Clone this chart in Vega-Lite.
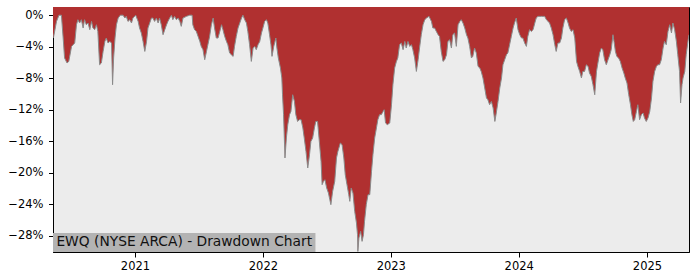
{
  "$schema": "https://vega.github.io/schema/vega-lite/v6.json",
  "width": 636,
  "height": 245,
  "autosize": {"type": "none"},
  "padding": {"left": 53, "top": 7, "right": 11, "bottom": 28},
  "config": {
    "view": {"stroke": "#000000", "strokeWidth": 1, "fill": "#ececec"},
    "axis": {
      "domainColor": "#000000",
      "tickColor": "#000000",
      "labelColor": "#000000",
      "labelFont": "DejaVu Sans",
      "labelFontSize": 11.5,
      "grid": false,
      "title": null
    }
  },
  "datasets": {
    "drawdown": [
      {"d": "2020-05-12", "v": -2.9},
      {"d": "2020-05-14", "v": -2.69},
      {"d": "2020-05-22", "v": -0.79},
      {"d": "2020-05-29", "v": 0},
      {"d": "2020-06-05", "v": 0},
      {"d": "2020-06-10", "v": -2.9},
      {"d": "2020-06-14", "v": -5.43},
      {"d": "2020-06-21", "v": -6.07},
      {"d": "2020-06-26", "v": -5.87},
      {"d": "2020-07-04", "v": -3.96},
      {"d": "2020-07-13", "v": -3.53},
      {"d": "2020-07-18", "v": -1.21},
      {"d": "2020-07-22", "v": -0.57},
      {"d": "2020-07-27", "v": -0.99},
      {"d": "2020-08-01", "v": -0.57},
      {"d": "2020-08-06", "v": -1.63},
      {"d": "2020-08-10", "v": -0.57},
      {"d": "2020-08-15", "v": -1.21},
      {"d": "2020-08-20", "v": -0.99},
      {"d": "2020-08-25", "v": -1.84},
      {"d": "2020-08-30", "v": -0.79},
      {"d": "2020-09-03", "v": -1.63},
      {"d": "2020-09-08", "v": -1.84},
      {"d": "2020-09-13", "v": -1.21},
      {"d": "2020-09-17", "v": -2.06},
      {"d": "2020-09-22", "v": -6.29},
      {"d": "2020-09-27", "v": -6.07},
      {"d": "2020-10-02", "v": -4.6},
      {"d": "2020-10-07", "v": -3.33},
      {"d": "2020-10-11", "v": -2.9},
      {"d": "2020-10-16", "v": -3.53},
      {"d": "2020-10-21", "v": -3.33},
      {"d": "2020-10-26", "v": -3.53},
      {"d": "2020-10-29", "v": -8.83},
      {"d": "2020-11-01", "v": -5.43},
      {"d": "2020-11-05", "v": -2.9},
      {"d": "2020-11-09", "v": -1.21},
      {"d": "2020-11-14", "v": -0.36},
      {"d": "2020-11-20", "v": 0},
      {"d": "2020-11-28", "v": 0},
      {"d": "2020-12-03", "v": -0.36},
      {"d": "2020-12-07", "v": -0.15},
      {"d": "2020-12-12", "v": -0.79},
      {"d": "2020-12-17", "v": -0.57},
      {"d": "2020-12-22", "v": -0.99},
      {"d": "2020-12-26", "v": -0.36},
      {"d": "2021-01-03", "v": 0},
      {"d": "2021-01-10", "v": -0.79},
      {"d": "2021-01-14", "v": -1.63},
      {"d": "2021-01-19", "v": -2.26},
      {"d": "2021-01-24", "v": -3.33},
      {"d": "2021-01-29", "v": -4.6},
      {"d": "2021-02-03", "v": -3.33},
      {"d": "2021-02-07", "v": -1.63},
      {"d": "2021-02-12", "v": -0.99},
      {"d": "2021-02-17", "v": -0.36},
      {"d": "2021-02-21", "v": -0.36},
      {"d": "2021-02-26", "v": -0.79},
      {"d": "2021-03-03", "v": -0.36},
      {"d": "2021-03-08", "v": -0.99},
      {"d": "2021-03-12", "v": -0.36},
      {"d": "2021-03-17", "v": -1.21},
      {"d": "2021-03-22", "v": -2.48},
      {"d": "2021-03-27", "v": -1.84},
      {"d": "2021-04-01", "v": -1.21},
      {"d": "2021-04-05", "v": -0.79},
      {"d": "2021-04-10", "v": -0.36},
      {"d": "2021-04-15", "v": 0},
      {"d": "2021-04-19", "v": -0.57},
      {"d": "2021-04-24", "v": -0.15},
      {"d": "2021-04-29", "v": -0.57},
      {"d": "2021-05-04", "v": -0.36},
      {"d": "2021-05-09", "v": -0.79},
      {"d": "2021-05-13", "v": -1.42},
      {"d": "2021-05-18", "v": -0.36},
      {"d": "2021-05-28", "v": -0.15},
      {"d": "2021-06-06", "v": 0},
      {"d": "2021-06-13", "v": 0},
      {"d": "2021-06-15", "v": -1.21},
      {"d": "2021-06-20", "v": -1.84},
      {"d": "2021-06-25", "v": -2.06},
      {"d": "2021-06-30", "v": -2.69},
      {"d": "2021-07-05", "v": -3.33},
      {"d": "2021-07-09", "v": -3.96},
      {"d": "2021-07-14", "v": -4.38},
      {"d": "2021-07-19", "v": -5.65},
      {"d": "2021-07-24", "v": -4.6},
      {"d": "2021-07-28", "v": -3.75},
      {"d": "2021-08-02", "v": -2.69},
      {"d": "2021-08-07", "v": -1.21},
      {"d": "2021-08-12", "v": -0.36},
      {"d": "2021-08-16", "v": -1.63},
      {"d": "2021-08-21", "v": -2.9},
      {"d": "2021-08-26", "v": -2.9},
      {"d": "2021-08-31", "v": -2.06},
      {"d": "2021-09-05", "v": -1.21},
      {"d": "2021-09-09", "v": -1.84},
      {"d": "2021-09-14", "v": -2.69},
      {"d": "2021-09-19", "v": -3.33},
      {"d": "2021-09-23", "v": -3.75},
      {"d": "2021-09-28", "v": -4.8},
      {"d": "2021-10-03", "v": -5.02},
      {"d": "2021-10-08", "v": -5.23},
      {"d": "2021-10-12", "v": -3.96},
      {"d": "2021-10-17", "v": -2.69},
      {"d": "2021-10-22", "v": -1.63},
      {"d": "2021-10-27", "v": -0.99},
      {"d": "2021-11-01", "v": -0.36},
      {"d": "2021-11-05", "v": 0},
      {"d": "2021-11-10", "v": -0.57},
      {"d": "2021-11-15", "v": -0.99},
      {"d": "2021-11-19", "v": -2.06},
      {"d": "2021-11-24", "v": -3.75},
      {"d": "2021-11-29", "v": -5.87},
      {"d": "2021-12-04", "v": -4.17},
      {"d": "2021-12-09", "v": -3.96},
      {"d": "2021-12-13", "v": -4.38},
      {"d": "2021-12-18", "v": -3.75},
      {"d": "2021-12-23", "v": -3.33},
      {"d": "2021-12-28", "v": -2.26},
      {"d": "2022-01-01", "v": -1.63},
      {"d": "2022-01-06", "v": -0.79},
      {"d": "2022-01-11", "v": -0.57},
      {"d": "2022-01-15", "v": -0.99},
      {"d": "2022-01-20", "v": -2.48},
      {"d": "2022-01-24", "v": -3.75},
      {"d": "2022-01-27", "v": -5.23},
      {"d": "2022-02-01", "v": -3.96},
      {"d": "2022-02-07", "v": -2.9},
      {"d": "2022-02-10", "v": -4.17},
      {"d": "2022-02-14", "v": -5.43},
      {"d": "2022-02-20", "v": -6.7},
      {"d": "2022-02-24", "v": -7.97},
      {"d": "2022-02-26", "v": -10.1},
      {"d": "2022-03-01", "v": -12.63},
      {"d": "2022-03-05", "v": -18.13},
      {"d": "2022-03-09", "v": -15.59},
      {"d": "2022-03-13", "v": -13.9},
      {"d": "2022-03-18", "v": -12.63},
      {"d": "2022-03-22", "v": -12.22},
      {"d": "2022-03-27", "v": -10.1},
      {"d": "2022-04-01", "v": -10.95},
      {"d": "2022-04-05", "v": -12.63},
      {"d": "2022-04-10", "v": -13.49},
      {"d": "2022-04-15", "v": -13.27},
      {"d": "2022-04-20", "v": -13.27},
      {"d": "2022-04-25", "v": -14.32},
      {"d": "2022-04-29", "v": -15.59},
      {"d": "2022-05-04", "v": -17.3},
      {"d": "2022-05-09", "v": -19.4},
      {"d": "2022-05-14", "v": -17.71},
      {"d": "2022-05-18", "v": -16.03},
      {"d": "2022-05-23", "v": -15.59},
      {"d": "2022-05-28", "v": -14.32},
      {"d": "2022-06-01", "v": -13.49},
      {"d": "2022-06-06", "v": -13.49},
      {"d": "2022-06-11", "v": -16.03},
      {"d": "2022-06-16", "v": -18.57},
      {"d": "2022-06-19", "v": -21.52},
      {"d": "2022-06-23", "v": -21.1},
      {"d": "2022-06-27", "v": -20.89},
      {"d": "2022-07-02", "v": -21.94},
      {"d": "2022-07-07", "v": -22.58},
      {"d": "2022-07-11", "v": -23.43},
      {"d": "2022-07-14", "v": -24.06},
      {"d": "2022-07-19", "v": -22.37},
      {"d": "2022-07-25", "v": -21.1},
      {"d": "2022-07-30", "v": -18.13},
      {"d": "2022-08-03", "v": -17.3},
      {"d": "2022-08-10", "v": -16.23},
      {"d": "2022-08-15", "v": -16.44},
      {"d": "2022-08-20", "v": -18.13},
      {"d": "2022-08-24", "v": -20.25},
      {"d": "2022-08-29", "v": -21.52},
      {"d": "2022-09-03", "v": -22.79},
      {"d": "2022-09-06", "v": -23.64},
      {"d": "2022-09-10", "v": -21.94},
      {"d": "2022-09-15", "v": -22.58},
      {"d": "2022-09-20", "v": -24.91},
      {"d": "2022-09-25", "v": -26.39},
      {"d": "2022-09-28", "v": -27.87},
      {"d": "2022-09-29", "v": -30.0},
      {"d": "2022-10-02", "v": -28.29},
      {"d": "2022-10-07", "v": -27.45},
      {"d": "2022-10-11", "v": -28.72},
      {"d": "2022-10-15", "v": -27.87},
      {"d": "2022-10-18", "v": -26.18},
      {"d": "2022-10-23", "v": -24.06},
      {"d": "2022-10-28", "v": -22.79},
      {"d": "2022-11-02", "v": -22.79},
      {"d": "2022-11-07", "v": -19.83},
      {"d": "2022-11-11", "v": -17.71},
      {"d": "2022-11-16", "v": -15.59},
      {"d": "2022-11-21", "v": -14.32},
      {"d": "2022-11-25", "v": -13.27},
      {"d": "2022-11-30", "v": -12.63},
      {"d": "2022-12-05", "v": -12.63},
      {"d": "2022-12-10", "v": -12.22},
      {"d": "2022-12-13", "v": -12.0},
      {"d": "2022-12-17", "v": -13.69},
      {"d": "2022-12-22", "v": -13.9},
      {"d": "2022-12-29", "v": -13.69},
      {"d": "2023-01-03", "v": -11.37},
      {"d": "2023-01-07", "v": -8.83},
      {"d": "2023-01-12", "v": -6.7},
      {"d": "2023-01-17", "v": -5.87},
      {"d": "2023-01-21", "v": -5.43},
      {"d": "2023-01-26", "v": -3.75},
      {"d": "2023-01-31", "v": -3.53},
      {"d": "2023-02-05", "v": -4.38},
      {"d": "2023-02-10", "v": -3.33},
      {"d": "2023-02-14", "v": -4.17},
      {"d": "2023-02-19", "v": -3.33},
      {"d": "2023-02-24", "v": -3.96},
      {"d": "2023-03-01", "v": -3.75},
      {"d": "2023-03-05", "v": -4.38},
      {"d": "2023-03-10", "v": -5.43},
      {"d": "2023-03-15", "v": -7.14},
      {"d": "2023-03-20", "v": -5.65},
      {"d": "2023-03-24", "v": -4.17},
      {"d": "2023-03-29", "v": -2.48},
      {"d": "2023-04-03", "v": -1.21},
      {"d": "2023-04-08", "v": -0.57},
      {"d": "2023-04-13", "v": -0.36},
      {"d": "2023-04-20", "v": -0.15},
      {"d": "2023-04-27", "v": -0.79},
      {"d": "2023-05-01", "v": -1.63},
      {"d": "2023-05-06", "v": -1.63},
      {"d": "2023-05-11", "v": -2.06},
      {"d": "2023-05-16", "v": -2.48},
      {"d": "2023-05-20", "v": -2.69},
      {"d": "2023-05-25", "v": -4.6},
      {"d": "2023-05-30", "v": -5.87},
      {"d": "2023-06-04", "v": -5.65},
      {"d": "2023-06-09", "v": -5.02},
      {"d": "2023-06-13", "v": -3.33},
      {"d": "2023-06-18", "v": -3.11},
      {"d": "2023-06-23", "v": -4.17},
      {"d": "2023-06-27", "v": -2.48},
      {"d": "2023-07-02", "v": -2.26},
      {"d": "2023-07-07", "v": -3.96},
      {"d": "2023-07-12", "v": -1.21},
      {"d": "2023-07-17", "v": -0.79},
      {"d": "2023-07-21", "v": -0.57},
      {"d": "2023-07-26", "v": -0.99},
      {"d": "2023-07-31", "v": -1.63},
      {"d": "2023-08-05", "v": -2.48},
      {"d": "2023-08-09", "v": -2.9},
      {"d": "2023-08-14", "v": -3.96},
      {"d": "2023-08-19", "v": -5.43},
      {"d": "2023-08-23", "v": -5.23},
      {"d": "2023-08-28", "v": -4.17},
      {"d": "2023-09-02", "v": -4.8},
      {"d": "2023-09-07", "v": -6.5},
      {"d": "2023-09-12", "v": -6.7},
      {"d": "2023-09-16", "v": -7.14},
      {"d": "2023-09-21", "v": -7.97},
      {"d": "2023-09-26", "v": -9.24},
      {"d": "2023-10-01", "v": -10.51},
      {"d": "2023-10-05", "v": -10.73},
      {"d": "2023-10-10", "v": -11.37},
      {"d": "2023-10-15", "v": -10.95},
      {"d": "2023-10-20", "v": -11.78},
      {"d": "2023-10-25", "v": -13.49},
      {"d": "2023-10-29", "v": -12.42},
      {"d": "2023-11-03", "v": -10.95},
      {"d": "2023-11-08", "v": -9.24},
      {"d": "2023-11-13", "v": -7.97},
      {"d": "2023-11-17", "v": -6.29},
      {"d": "2023-11-22", "v": -5.65},
      {"d": "2023-11-27", "v": -5.02},
      {"d": "2023-12-01", "v": -4.8},
      {"d": "2023-12-06", "v": -3.75},
      {"d": "2023-12-11", "v": -2.69},
      {"d": "2023-12-16", "v": -1.63},
      {"d": "2023-12-20", "v": -0.99},
      {"d": "2023-12-25", "v": -0.36},
      {"d": "2023-12-30", "v": -1.84},
      {"d": "2024-01-04", "v": -2.48},
      {"d": "2024-01-09", "v": -2.9},
      {"d": "2024-01-13", "v": -2.9},
      {"d": "2024-01-18", "v": -3.53},
      {"d": "2024-01-23", "v": -3.96},
      {"d": "2024-01-27", "v": -2.69},
      {"d": "2024-02-01", "v": -1.84},
      {"d": "2024-02-06", "v": -2.06},
      {"d": "2024-02-11", "v": -1.84},
      {"d": "2024-02-16", "v": -0.99},
      {"d": "2024-02-20", "v": -0.36},
      {"d": "2024-02-25", "v": -0.15},
      {"d": "2024-03-06", "v": -0.15},
      {"d": "2024-03-15", "v": -0.15},
      {"d": "2024-03-20", "v": -0.57},
      {"d": "2024-03-25", "v": -0.79},
      {"d": "2024-03-29", "v": -0.99},
      {"d": "2024-04-03", "v": -1.63},
      {"d": "2024-04-08", "v": -2.48},
      {"d": "2024-04-13", "v": -3.75},
      {"d": "2024-04-17", "v": -4.6},
      {"d": "2024-04-22", "v": -3.53},
      {"d": "2024-04-27", "v": -3.53},
      {"d": "2024-05-02", "v": -2.9},
      {"d": "2024-05-06", "v": -1.63},
      {"d": "2024-05-11", "v": -0.57},
      {"d": "2024-05-16", "v": -0.36},
      {"d": "2024-05-21", "v": -0.99},
      {"d": "2024-05-25", "v": -1.63},
      {"d": "2024-05-30", "v": -2.06},
      {"d": "2024-06-04", "v": -1.84},
      {"d": "2024-06-09", "v": -2.9},
      {"d": "2024-06-14", "v": -5.87},
      {"d": "2024-06-18", "v": -6.5},
      {"d": "2024-06-23", "v": -7.14},
      {"d": "2024-06-28", "v": -7.97},
      {"d": "2024-07-02", "v": -7.14},
      {"d": "2024-07-07", "v": -7.14},
      {"d": "2024-07-12", "v": -6.29},
      {"d": "2024-07-17", "v": -6.5},
      {"d": "2024-07-21", "v": -7.34},
      {"d": "2024-07-26", "v": -7.77},
      {"d": "2024-07-31", "v": -8.83},
      {"d": "2024-08-05", "v": -10.1},
      {"d": "2024-08-10", "v": -7.14},
      {"d": "2024-08-14", "v": -6.07},
      {"d": "2024-08-19", "v": -4.8},
      {"d": "2024-08-24", "v": -4.17},
      {"d": "2024-08-28", "v": -4.38},
      {"d": "2024-09-02", "v": -5.65},
      {"d": "2024-09-07", "v": -6.29},
      {"d": "2024-09-12", "v": -5.65},
      {"d": "2024-09-17", "v": -5.02},
      {"d": "2024-09-21", "v": -4.38},
      {"d": "2024-09-26", "v": -2.48},
      {"d": "2024-09-29", "v": -3.33},
      {"d": "2024-10-03", "v": -4.6},
      {"d": "2024-10-07", "v": -5.23},
      {"d": "2024-10-12", "v": -5.43},
      {"d": "2024-10-17", "v": -5.87},
      {"d": "2024-10-22", "v": -6.7},
      {"d": "2024-10-27", "v": -7.34},
      {"d": "2024-10-31", "v": -7.97},
      {"d": "2024-11-05", "v": -8.61},
      {"d": "2024-11-10", "v": -10.1},
      {"d": "2024-11-15", "v": -11.37},
      {"d": "2024-11-19", "v": -12.63},
      {"d": "2024-11-23", "v": -13.49},
      {"d": "2024-11-27", "v": -13.27},
      {"d": "2024-12-02", "v": -12.22},
      {"d": "2024-12-06", "v": -11.37},
      {"d": "2024-12-11", "v": -13.27},
      {"d": "2024-12-16", "v": -12.63},
      {"d": "2024-12-21", "v": -12.42},
      {"d": "2024-12-25", "v": -13.05},
      {"d": "2024-12-30", "v": -13.49},
      {"d": "2025-01-04", "v": -13.05},
      {"d": "2025-01-09", "v": -12.22},
      {"d": "2025-01-14", "v": -10.51},
      {"d": "2025-01-18", "v": -8.41},
      {"d": "2025-01-23", "v": -7.14},
      {"d": "2025-01-28", "v": -6.5},
      {"d": "2025-02-01", "v": -6.29},
      {"d": "2025-02-06", "v": -6.29},
      {"d": "2025-02-11", "v": -5.65},
      {"d": "2025-02-16", "v": -4.17},
      {"d": "2025-02-20", "v": -3.33},
      {"d": "2025-02-25", "v": -3.75},
      {"d": "2025-03-02", "v": -2.06},
      {"d": "2025-03-07", "v": -1.21},
      {"d": "2025-03-12", "v": -2.26},
      {"d": "2025-03-16", "v": -0.99},
      {"d": "2025-03-21", "v": -1.84},
      {"d": "2025-03-26", "v": -3.33},
      {"d": "2025-03-30", "v": -5.02},
      {"d": "2025-04-04", "v": -7.14},
      {"d": "2025-04-07", "v": -11.15},
      {"d": "2025-04-11", "v": -8.83},
      {"d": "2025-04-14", "v": -7.97},
      {"d": "2025-04-19", "v": -7.14},
      {"d": "2025-04-23", "v": -5.02},
      {"d": "2025-04-28", "v": -3.33},
      {"d": "2025-05-01", "v": -2.48}
    ],
    "label": [
      {"label": "EWQ (NYSE ARCA) - Drawdown Chart", "start": "2020-05-12", "end": "2022-05-31", "low": -30.07, "high": -27.66, "base": -29.36}
    ]
  },
  "layer": [
    {
      "data": {"name": "drawdown"},
      "mark": {"type": "area", "color": "#b03030", "clip": true},
      "encoding": {
        "x": {
          "field": "d",
          "type": "temporal",
          "scale": {
            "type": "utc",
            "domain": [
              {"year": 2020, "month": 5, "date": 12, "utc": true},
              {"year": 2025, "month": 5, "date": 1, "utc": true}
            ],
            "nice": false
          },
          "axis": {
            "values": [
              {"year": 2021, "month": 1, "date": 1, "utc": true},
              {"year": 2022, "month": 1, "date": 1, "utc": true},
              {"year": 2023, "month": 1, "date": 1, "utc": true},
              {"year": 2024, "month": 1, "date": 1, "utc": true},
              {"year": 2025, "month": 1, "date": 1, "utc": true}
            ],
            "tickCount": 20,
            "format": "%Y",
            "formatType": "utc",
            "tickSize": 5,
            "labelPadding": 3,
            "labelOverlap": false,
            "labelFlush": false
          }
        },
        "y": {
          "field": "v",
          "type": "quantitative",
          "scale": {"domain": [-30.07, 1.04], "nice": false, "zero": false},
          "axis": {
            "values": [-28, -24, -20, -16, -12, -8, -4, 0],
            "tickCount": 20,
            "labelExpr": "format(datum.value / 100, '.0%')",
            "tickSize": 4.5,
            "labelPadding": 5.5,
            "labelOverlap": false,
            "labelFlush": false
          }
        },
        "y2": {"datum": 1.04}
      }
    },
    {
      "data": {"name": "drawdown"},
      "mark": {"type": "line", "color": "#8a8a8a", "strokeWidth": 1, "clip": true},
      "encoding": {
        "x": {"field": "d", "type": "temporal"},
        "y": {"field": "v", "type": "quantitative"}
      }
    },
    {
      "data": {"name": "label"},
      "mark": {"type": "rect", "color": "#b3b3b3", "clip": true},
      "encoding": {
        "x": {"field": "start", "type": "temporal"},
        "x2": {"field": "end"},
        "y": {"field": "low", "type": "quantitative"},
        "y2": {"field": "high"}
      }
    },
    {
      "data": {"name": "label"},
      "mark": {
        "type": "text",
        "font": "DejaVu Sans",
        "fontSize": 13.8,
        "color": "#111111",
        "align": "left",
        "baseline": "alphabetic",
        "dx": 3.4
      },
      "encoding": {
        "text": {"field": "label"},
        "x": {"field": "start", "type": "temporal"},
        "y": {"field": "base", "type": "quantitative"}
      }
    }
  ]
}
